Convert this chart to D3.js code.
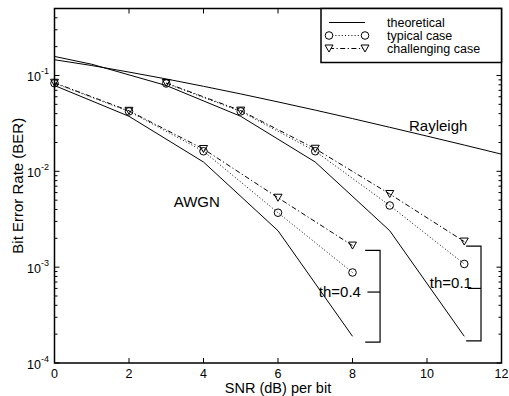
<!DOCTYPE html>
<html>
<head>
<meta charset="utf-8">
<title>BER vs SNR</title>
<script src="https://cdn.jsdelivr.net/npm/d3@7"></script>
<style>
body { margin: 0; background: #fff; }
svg { font-family: "Liberation Sans", Arial, sans-serif; }
.frame { fill: none; stroke: #000; stroke-width: 1.5px; }
</style>
</head>
<body>
<script>
// data
var snrAwgn = [0, 2, 4, 6, 8];
var snrShift = [3, 5, 7, 9, 11];

// theoretical curves
var theoryAwgnX = [0, 2, 4, 6, 8];
var theoryAwgnY = [0.0786, 0.0375, 0.0125, 0.0024, 0.00019];
var theoryShiftX = [0, 1, 3, 5, 7, 9, 11];
var theoryShiftY = [0.158, 0.131, 0.0786, 0.0375, 0.0125, 0.0024, 0.00019];
var rayleighX = [0, 1, 2, 3, 4, 5, 6, 7, 8, 9, 10, 11, 12];
var rayleighY = [0.146, 0.127, 0.1085, 0.092, 0.0771, 0.0642, 0.053, 0.0435, 0.0355, 0.0288, 0.0233, 0.0188, 0.0151];

// simulated, th=0.4 (AWGN group)
var typicalAwgn = [0.083, 0.0422, 0.0162, 0.0037, 0.00088];
var challengingAwgn = [0.084, 0.0428, 0.0171, 0.0053, 0.00168];
// simulated, th=0.1 (shifted group)
var typicalShift = [0.0825, 0.0422, 0.0162, 0.0044, 0.00108];
var challengingShift = [0.0835, 0.043, 0.0172, 0.0058, 0.00185];

var xTicks = [0, 2, 4, 6, 8, 10, 12];
var yTicks = [1e-4, 1e-3, 1e-2, 1e-1];
var yTickExp = ["-4", "-3", "-2", "-1"];
var legendLabels = ["theoretical", "typical case", "challenging case"];

// annotations (data coords)
var bracketNames = ["th=0.4", "th=0.1"];
var bracketX = [8.74, 11.45];
var bracketLeft = [8.34, 11.05];
var bracketMidLeft = [8.4, 11.1];
var bracketTop = [0.0015, 0.00166];
var bracketBottom = [0.000165, 0.00017];
var bracketMid = [0.00055, 0.0006];
var labelPos = [[7.66, 0.00055], [10.64, 0.00068]];
var curveNames = ["Rayleigh", "AWGN"];
var curveNamePos = [[10.3, 0.0302], [3.82, 0.0049]];

var W = 509, H = 396;
var plotL = 54.5, plotR = 501.5, plotT = 8.5, plotB = 363;

var svg = d3.select("body").append("svg")
    .attr("width", W)
    .attr("height", H);

var x = d3.scaleLinear().domain([0, 12]).range([plotL, plotR]);
var y = d3.scaleLog().domain([1e-4, 0.5]).range([plotB, plotT]);

// minor ticks for the log axis
var minorTicks = [];
[1e-4, 1e-3, 1e-2, 1e-1].forEach(function(dec) {
    for (var k = 2; k <= 9; k++) {
        if (dec * k <= 0.5) minorTicks.push(dec * k);
    }
});

// ticks, all pointing inward
var tickG = svg.append("g").attr("stroke", "#000").attr("stroke-width", 1);
xTicks.forEach(function(t) {
    tickG.append("line").attr("x1", x(t)).attr("x2", x(t)).attr("y1", plotB).attr("y2", plotB - 5);
    tickG.append("line").attr("x1", x(t)).attr("x2", x(t)).attr("y1", plotT).attr("y2", plotT + 5);
});
yTicks.forEach(function(t) {
    tickG.append("line").attr("x1", plotL).attr("x2", plotL + 5).attr("y1", y(t)).attr("y2", y(t));
    tickG.append("line").attr("x1", plotR).attr("x2", plotR - 5).attr("y1", y(t)).attr("y2", y(t));
});
minorTicks.forEach(function(t) {
    tickG.append("line").attr("x1", plotL).attr("x2", plotL + 3).attr("y1", y(t)).attr("y2", y(t));
    tickG.append("line").attr("x1", plotR).attr("x2", plotR - 3).attr("y1", y(t)).attr("y2", y(t));
});

// tick labels
svg.selectAll(".xlab")
    .data(xTicks)
    .enter().append("text")
    .attr("class", "xlab")
    .attr("x", function(d) { return x(d); })
    .attr("y", 378)
    .attr("text-anchor", "middle")
    .attr("font-size", "12.5px")
    .text(function(d) { return d; });

var yl = svg.selectAll(".ylab")
    .data(yTicks)
    .enter().append("text")
    .attr("class", "ylab")
    .attr("x", 49)
    .attr("y", function(d) { return y(d) + 6; })
    .attr("text-anchor", "end")
    .attr("font-size", "12.5px");
yl.append("tspan").text("10");
yl.append("tspan")
    .attr("dy", -7)
    .attr("font-size", "9px")
    .text(function(d, i) { return yTickExp[i]; });

// axis titles
svg.append("text")
    .attr("x", (plotL + plotR) / 2)
    .attr("y", 393)
    .attr("text-anchor", "middle")
    .attr("font-size", "14.5px")
    .text("SNR (dB) per bit");

svg.append("text")
    .attr("transform", "translate(23," + ((plotT + plotB) / 2) + ") rotate(-90)")
    .attr("text-anchor", "middle")
    .attr("font-size", "15px")
    .text("Bit Error Rate (BER)");

// clip to plot box
svg.append("clipPath").attr("id", "clip")
    .append("rect")
    .attr("x", plotL).attr("y", plotT)
    .attr("width", plotR - plotL).attr("height", plotB - plotT);

var plot = svg.append("g").attr("clip-path", "url(#clip)");

var line = d3.line()
    .x(function(d) { return x(d[0]); })
    .y(function(d) { return y(d[1]); });

function zip(xs, ys) {
    return xs.map(function(v, i) { return [v, ys[i]]; });
}

// theoretical
[[theoryAwgnX, theoryAwgnY], [theoryShiftX, theoryShiftY], [rayleighX, rayleighY]].forEach(function(c) {
    plot.append("path")
        .datum(zip(c[0], c[1]))
        .attr("d", line)
        .attr("fill", "none")
        .attr("stroke", "#000")
        .attr("stroke-width", 1);
});

// simulated lines
var dotted = "1,2.2";
var dashdot = "5,2.5,1.2,2.5";
[[snrAwgn, typicalAwgn, dotted], [snrShift, typicalShift, dotted],
 [snrAwgn, challengingAwgn, dashdot], [snrShift, challengingShift, dashdot]].forEach(function(c) {
    plot.append("path")
        .datum(zip(c[0], c[1]))
        .attr("d", line)
        .attr("fill", "none")
        .attr("stroke", "#000")
        .attr("stroke-width", 1)
        .attr("stroke-dasharray", c[2]);
});

var tri = "M-4,-3.5L4,-3.5L0,3.5Z";

function drawCircles(g, pts) {
    g.selectAll(null)
        .data(pts)
        .enter().append("circle")
        .attr("cx", function(d) { return x(d[0]); })
        .attr("cy", function(d) { return y(d[1]); })
        .attr("r", 3.8)
        .attr("fill", "none")
        .attr("stroke", "#000")
        .attr("stroke-width", 1);
}
function drawTris(g, pts) {
    g.selectAll(null)
        .data(pts)
        .enter().append("path")
        .attr("d", tri)
        .attr("transform", function(d) { return "translate(" + x(d[0]) + "," + y(d[1]) + ")"; })
        .attr("fill", "none")
        .attr("stroke", "#000")
        .attr("stroke-width", 1);
}
drawCircles(svg, zip(snrAwgn, typicalAwgn));
drawCircles(svg, zip(snrShift, typicalShift));
drawTris(svg, zip(snrAwgn, challengingAwgn));
drawTris(svg, zip(snrShift, challengingShift));

// brackets for th groups
bracketNames.forEach(function(name, i) {
    var bx = x(bracketX[i]);
    var g = svg.append("g").attr("stroke", "#000").attr("stroke-width", 1.2).attr("fill", "none");
    g.append("path").attr("d",
        "M" + x(bracketLeft[i]) + "," + y(bracketTop[i]) +
        "H" + bx + "V" + y(bracketBottom[i]) + "H" + x(bracketLeft[i]));
    g.append("line")
        .attr("x1", x(bracketMidLeft[i])).attr("x2", bx)
        .attr("y1", y(bracketMid[i])).attr("y2", y(bracketMid[i]));
    svg.append("text")
        .attr("x", x(labelPos[i][0]))
        .attr("y", y(labelPos[i][1]) + 5)
        .attr("text-anchor", "middle")
        .attr("font-size", "15px")
        .text(name);
});

curveNames.forEach(function(name, i) {
    svg.append("text")
        .attr("x", x(curveNamePos[i][0]))
        .attr("y", y(curveNamePos[i][1]) + 5.5)
        .attr("text-anchor", "middle")
        .attr("font-size", "15px")
        .text(name);
});

// plot frame
svg.append("rect")
    .attr("class", "frame")
    .attr("x", plotL).attr("y", plotT)
    .attr("width", plotR - plotL).attr("height", plotB - plotT);

// legend
var lg = svg.append("g");
lg.append("rect")
    .attr("x", 321).attr("y", plotT)
    .attr("width", plotR - 321).attr("height", 54)
    .attr("fill", "#fff")
    .attr("stroke", "#000")
    .attr("stroke-width", 1.5);

var rowY = [22.5, 35.5, 48.5];
var styles = [null, dotted, dashdot];
legendLabels.forEach(function(lab, i) {
    lg.append("line")
        .attr("x1", 329).attr("x2", 365)
        .attr("y1", rowY[i]).attr("y2", rowY[i])
        .attr("stroke", "#000")
        .attr("stroke-width", 1)
        .attr("stroke-dasharray", styles[i]);
    lg.append("text")
        .attr("x", 387)
        .attr("y", rowY[i] + 4.5)
        .attr("font-size", "12.5px")
        .text(lab);
});
[329, 365].forEach(function(px) {
    lg.append("circle")
        .attr("cx", px).attr("cy", rowY[1]).attr("r", 3.8)
        .attr("fill", "#fff").attr("stroke", "#000");
    lg.append("path")
        .attr("d", tri)
        .attr("transform", "translate(" + px + "," + rowY[2] + ")")
        .attr("fill", "#fff").attr("stroke", "#000");
});
</script>
</body>
</html>
